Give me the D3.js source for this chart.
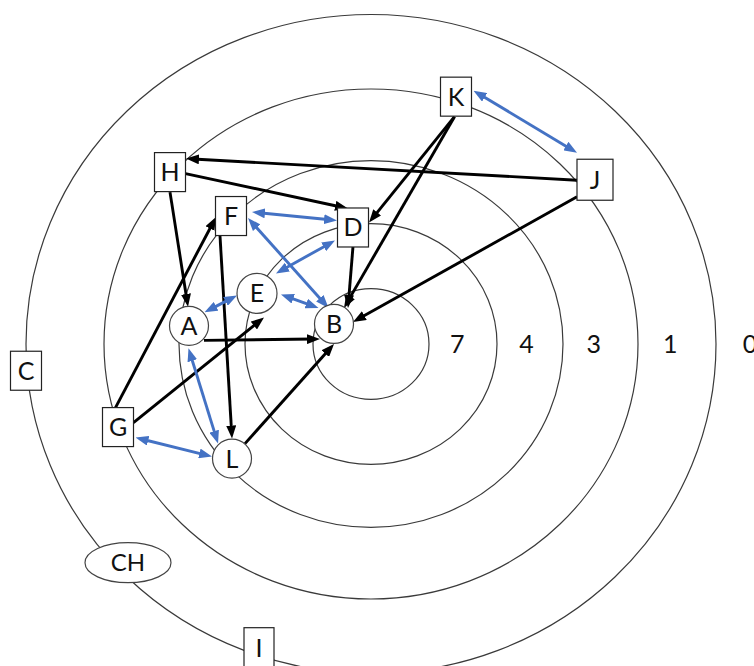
<!DOCTYPE html>
<html>
<head>
<meta charset="utf-8">
<script src="https://cdn.jsdelivr.net/npm/d3@7"></script>
<style>
  html, body { margin: 0; padding: 0; background: #fff; }
  svg { display: block; }
  text { font-family: Lato, "Open Sans", sans-serif; fill: #111; }
</style>
</head>
<body>
<div id="chart"></div>
<script>
// rings (score levels) and their labels
var ringLabels = ["7", "4", "3", "1", "0"];
var ringRadius = [58, 126, 192, 267, 345];

// actors, in chart units relative to the centre
var nodeNames = ["K", "J", "H", "F", "D", "E", "A", "B", "L", "G", "C", "CH", "I"];
var nodeShape = ["box", "box", "box", "box", "box", "circle", "circle", "circle", "circle", "box", "box", "ellipse", "box"];
var nodeX = [85, 224, -201, -140, -18, -114, -182, -37, -139, -253, -345, -243, -112];
var nodeY = [-259, -172, -180, -134, -122, -53, -19, -21, 120, 87, 28, 229, 318];

// links: one-way (black) and mutual (blue)
var edgeFrom = ["K", "K", "J", "J", "H", "H", "F", "D", "A", "G", "G", "L",
                "K", "F", "F", "D", "E", "E", "A", "G"];
var edgeTo   = ["D", "B", "H", "B", "D", "A", "L", "B", "B", "F", "E", "B",
                "J", "D", "B", "E", "A", "B", "L", "L"];
var edgeKind = ["one", "one", "one", "one", "one", "one", "one", "one", "one", "one", "one", "one",
                "both", "both", "both", "both", "both", "both", "both", "both"];

// where each link leaves / meets its node (pixel offset from node centre)
var ports = [
  [[-1.5, 20], [16, -5]],
  [[-1.5, 20], [10, -16]],
  [[-18, 0.5], [16, -13.5]],
  [[-18, 17], [19, -2]],
  [[15.5, 1.5], [-5, -19]],
  [[0, 20], [-1, -19]],
  [[-11, 20], [0, -20]],
  [[0, 19], [14, -16]],
  [[15, 14.5], [-14, 15]],
  [[-2.5, -19.5], [-15, 1]],
  [[15.5, -4.5], [7, 24]],
  [[13, -15], [0, 20]],
  [[17.5, -6], [-18, -27]],
  [[21, -4], [-16, -7]],
  [[17, 2], [-5.5, -16]],
  [[-18, 13], [19, -20]],
  [[-20, 2], [15.5, -13.5]],
  [[24, 1], [-15.5, -16]],
  [[-0.5, 22.5], [-14, -15]],
  [[17.5, 10.5], [-20, -2]]
];

var W = 754, H = 666;
var x = d3.scaleLinear().domain([-371, 383]).range([0, W]);
var ySquash = 0.955;
var y = d3.scaleLinear().domain([-344 / ySquash, 322 / ySquash]).range([0, H]);

var svg = d3.select("#chart").append("svg")
    .attr("width", W)
    .attr("height", H);

var defs = svg.append("defs");
function addMarker(id, color) {
    defs.append("marker")
        .attr("id", id)
        .attr("viewBox", "0 0 13 10")
        .attr("refX", 6)
        .attr("refY", 5)
        .attr("markerUnits", "userSpaceOnUse")
        .attr("markerWidth", 13)
        .attr("markerHeight", 10)
        .attr("orient", "auto-start-reverse")
        .append("path")
        .attr("d", "M0,0 L13,5 L0,10 Z")
        .attr("fill", color);
}
addMarker("head_black", "#000");
addMarker("head_blue", "#4472c4");

// rings
svg.append("g").selectAll("ellipse")
    .data(ringRadius)
    .enter().append("ellipse")
    .attr("cx", x(0))
    .attr("cy", y(0))
    .attr("rx", function (d) { return x(d) - x(0); })
    .attr("ry", function (d) { return y(d) - y(0); })
    .attr("fill", "none")
    .attr("stroke", "#3a3a3a")
    .attr("stroke-width", 1.2);

svg.append("g").selectAll("text")
    .data(ringLabels)
    .enter().append("text")
    .attr("x", function (d, i) { return x(ringRadius[i] + 27 + ringRadius[i] * 0.02); })
    .attr("y", y(0))
    .attr("dy", "0.36em")
    .attr("text-anchor", "middle")
    .style("font-size", "25px")
    .text(function (d) { return d; });

// node lookup
var nodes = nodeNames.map(function (n, i) {
    return { name: n, shape: nodeShape[i], px: x(nodeX[i]), py: y(nodeY[i]) };
});
var byName = {};
nodes.forEach(function (n) { byName[n.name] = n; });

// links
var edges = edgeFrom.map(function (s, i) {
    var a = byName[s], b = byName[edgeTo[i]];
    var p = ports[i];
    return {
        kind: edgeKind[i],
        x1: a.px + p[0][0], y1: a.py + p[0][1],
        x2: b.px + p[1][0], y2: b.py + p[1][1]
    };
});

function trim(e, which, len) {
    var dx = e.x2 - e.x1, dy = e.y2 - e.y1;
    var l = Math.sqrt(dx * dx + dy * dy);
    return which == 1 ? [e.x1 + dx / l * len, e.y1 + dy / l * len]
                      : [e.x2 - dx / l * len, e.y2 - dy / l * len];
}

svg.append("g").selectAll("line")
    .data(edges)
    .enter().append("line")
    .each(function (e) {
        var s = e.kind == "both" ? trim(e, 1, 7) : [e.x1, e.y1];
        var t = trim(e, 2, 7);
        d3.select(this)
            .attr("x1", s[0]).attr("y1", s[1])
            .attr("x2", t[0]).attr("y2", t[1]);
    })
    .attr("stroke", function (e) { return e.kind == "both" ? "#4472c4" : "#000"; })
    .attr("stroke-width", 2.9)
    .attr("marker-end", function (e) { return e.kind == "both" ? "url(#head_blue)" : "url(#head_black)"; })
    .attr("marker-start", function (e) { return e.kind == "both" ? "url(#head_blue)" : null; });

// nodes
var boxW = { J: 36, I: 30 };
var boxH = { J: 41, I: 40 };
var ng = svg.append("g").selectAll("g")
    .data(nodes)
    .enter().append("g")
    .attr("transform", function (d) { return "translate(" + d.px + "," + d.py + ")"; });

ng.each(function (d) {
    var g = d3.select(this);
    if (d.shape == "box") {
        var w = boxW[d.name] || 31, h = boxH[d.name] || 39;
        g.append("rect")
            .attr("x", -w / 2).attr("y", -h / 2)
            .attr("width", w).attr("height", h)
            .attr("fill", "#fff")
            .attr("stroke", "#222")
            .attr("stroke-width", 1.2);
    } else if (d.shape == "circle") {
        g.append("circle")
            .attr("r", d.name == "E" ? 20 : 19.5)
            .attr("fill", "#fff")
            .attr("stroke", "#444")
            .attr("stroke-width", 1.2);
    } else {
        g.append("ellipse")
            .attr("rx", 43).attr("ry", 20)
            .attr("fill", "#fff")
            .attr("stroke", "#444")
            .attr("stroke-width", 1.2);
    }
    g.append("text")
        .attr("text-anchor", "middle")
        .attr("dy", "0.36em")
        .style("font-size", d.name == "CH" ? "24px" : "25px")
        .text(d.name);
});
</script>
</body>
</html>
